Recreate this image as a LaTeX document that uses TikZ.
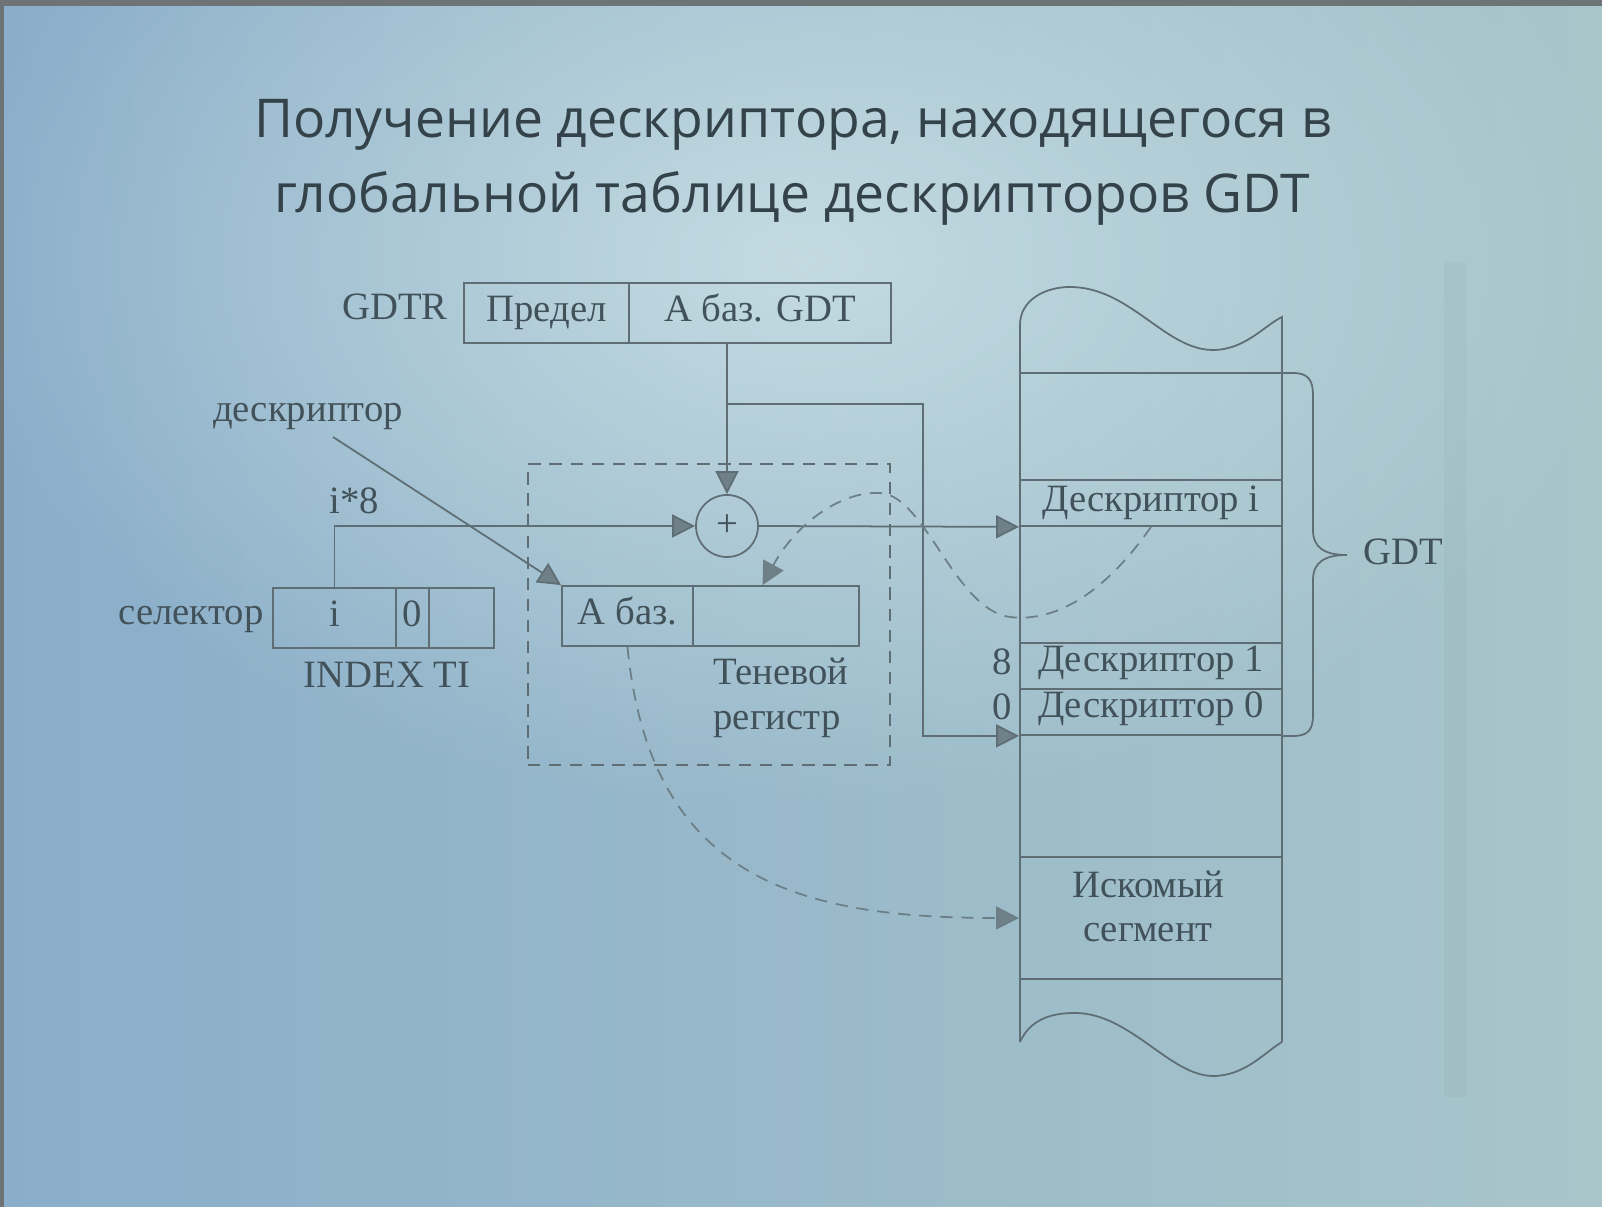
\documentclass[tikz,border=0pt]{standalone}
\usepackage{fontspec}
\setmainfont{Liberation Serif}
\newfontfamily\titlefont{Open Sans}
\usetikzlibrary{arrows.meta,calc,fadings}

\definecolor{inkc}{HTML}{42525A}
\definecolor{linec}{HTML}{5E6E74}
\definecolor{dashc}{HTML}{6C7F86}
\definecolor{tipfill}{HTML}{6F8088}
\definecolor{titlec}{HTML}{34424A}
\definecolor{bgL}{HTML}{8AAECA}
\definecolor{bgR}{HTML}{A8C5CA}
\definecolor{spot}{HTML}{C8DEE4}
\definecolor{edgec}{HTML}{6E7375}

\tikzfading[name=spotfade, inner color=transparent!0, outer color=transparent!100]

\begin{document}
\begin{tikzpicture}[x=0.01cm,y=-0.01cm,
  every node/.style={inner sep=0pt},
  lbl/.style={text=inkc, font=\fontsize{11}{13}\selectfont, anchor=base},
  cell/.style={draw=linec, line width=0.5pt, text=inkc, font=\fontsize{11}{13}\selectfont,
    minimum height=0.6cm, text height=7.5pt, text depth=2.5pt},
  gdtrow/.style={draw=linec, line width=0.5pt, minimum width=2.62cm},
  wire/.style={draw=linec, line width=0.5pt},
  arr/.style={wire, -{Triangle[length=6.5pt,width=6.5pt,fill=tipfill]}},
  darr/.style={draw=dashc, line width=0.5pt, dash pattern=on 3.5pt off 2.5pt,
    -{Triangle[length=6.5pt,width=6.5pt,fill=tipfill]}},
  dbox/.style={draw=linec, line width=0.5pt, dash pattern=on 3.5pt off 2.5pt},
  titletext/.style={text=titlec, font=\titlefont\fontsize{15.2}{18}\selectfont, anchor=base}
]
\useasboundingbox (0,0) rectangle (1602,1207);

% slide background
\shade[left color=bgL, right color=bgR] (0,0) rectangle (1602,1207);
\fill[spot, path fading=spotfade, opacity=0.9] (800,260) ellipse [x radius=8.5cm, y radius=5.5cm];
\fill[edgec] (0,0) rectangle (1602,6);
\fill[edgec] (0,0) rectangle (4,1207);
\fill[black, opacity=0.025] (1444,262) rectangle (1466,1097);

% title
\node[titletext] (t1) at (793,138) {Получение дескриптора, находящегося в};
\node[titletext] (t2) at (792,213) {глобальной таблице дескрипторов GDT};

% GDTR register
\node[lbl] (gdtrlbl) at (395,320) {GDTR};
\node[cell, minimum width=1.65cm] (pred) at (546.5,313) {Предел};
\node[cell, minimum width=2.62cm] (abaz) at (760,313) {А баз. GDT};

% adder
\node[draw=linec, line width=0.5pt, circle, minimum size=0.62cm, text=inkc,
  font=\fontsize{11}{13}\selectfont] (plus) at (727,526) {+};

% selector
\node[lbl] (sellbl) at (191,625) {селектор};
\node[cell, minimum width=1.23cm] (si) at (334.5,618) {i};
\node[cell, minimum width=0.33cm] (s0) at (412.5,618) {0};
\node[cell, minimum width=0.65cm] (sx) at (461.5,618) {};
\node[lbl] (idxlbl) at (387,688) {INDEX TI};
\node[lbl] (i8) at (354,514) {i*8};
\node[lbl] (desclbl) at (308,422) {дескриптор};

% shadow register
\node[dbox, minimum width=3.62cm, minimum height=3.01cm] (shadow) at (709,614.5) {};
\node[cell, minimum width=1.31cm] (sa) at (627.5,616) {А баз.};
\node[cell, minimum width=1.66cm] (sb) at (776,616) {};
\node[lbl] (shl1) at (781,685) {Теневой};
\node[lbl] (shl2) at (777,730) {регистр};

% descriptor table
\draw[wire] (1020,1042) -- (1020,325)
  .. controls (1020,300) and (1045,287) .. (1070,287)
  .. controls (1130,287) and (1165,350) .. (1213,350)
  .. controls (1245,350) and (1265,325) .. (1282,317) -- (1282,1042);
\draw[wire] (1020,1042)
  .. controls (1030,1020) and (1050,1013) .. (1075,1013)
  .. controls (1130,1013) and (1170,1076) .. (1213,1076)
  .. controls (1245,1076) and (1265,1052) .. (1282,1042);
\draw[wire] (1020,373) -- (1282,373);
\node[gdtrow, minimum height=0.46cm] (di) at (1151,503) {};
\node[gdtrow, minimum height=0.46cm] (d1) at (1151,666) {};
\node[gdtrow, minimum height=0.46cm] (d0) at (1151,712) {};
\node[gdtrow, minimum height=1.22cm] (seg) at (1151,918) {};
\node[lbl] (dil) at (1151,512) {Дескриптор i};
\node[lbl] (d1l) at (1151,672) {Дескриптор 1};
\node[lbl] (d0l) at (1151,718) {Дескриптор 0};
\node[lbl] (segl1) at (1148,898) {Искомый};
\node[lbl] (segl2) at (1148,942) {сегмент};
\node[lbl, anchor=base east] (off8) at (1013,675) {8};
\node[lbl, anchor=base east] (off0) at (1013,720) {0};

% brace around the table
\draw[wire] (1282,373) -- (1293,373)
  .. controls (1308,373) and (1313,380) .. (1313,395) -- (1313,530)
  .. controls (1313,548) and (1325,555) .. (1347,555)
  .. controls (1325,555) and (1313,562) .. (1313,580) -- (1313,715)
  .. controls (1313,730) and (1308,736) .. (1293,736) -- (1282,736);
\node[lbl] (gdtlbl) at (1403,565) {GDT};

% connections
\coordinate (br) at (727,404);
\coordinate (bend) at (923,404);
\coordinate (dstart) at (333,437);
\draw[arr] (abaz.south -| plus) -- (plus.north);
\draw[arr] (br) -- (bend) |- (d0.south west);
\draw[arr] (si.north) |- (plus.west);
\draw[arr] (plus.east) -- (di.south west);
\draw[arr] (dstart) -- (sa.north west);
\draw[darr] (di.south)
  .. controls (1100,600) and (1050,622) .. (1010,617)
  .. controls (955,610) and (925,495) .. (880,493)
  .. controls (840,491) and (795,525) .. ($(sb.north west)!0.42!(sb.north east)$);
\draw[darr] (sa.south) .. controls (650,880) and (800,918) .. (seg.west);
\end{tikzpicture}
\end{document}
